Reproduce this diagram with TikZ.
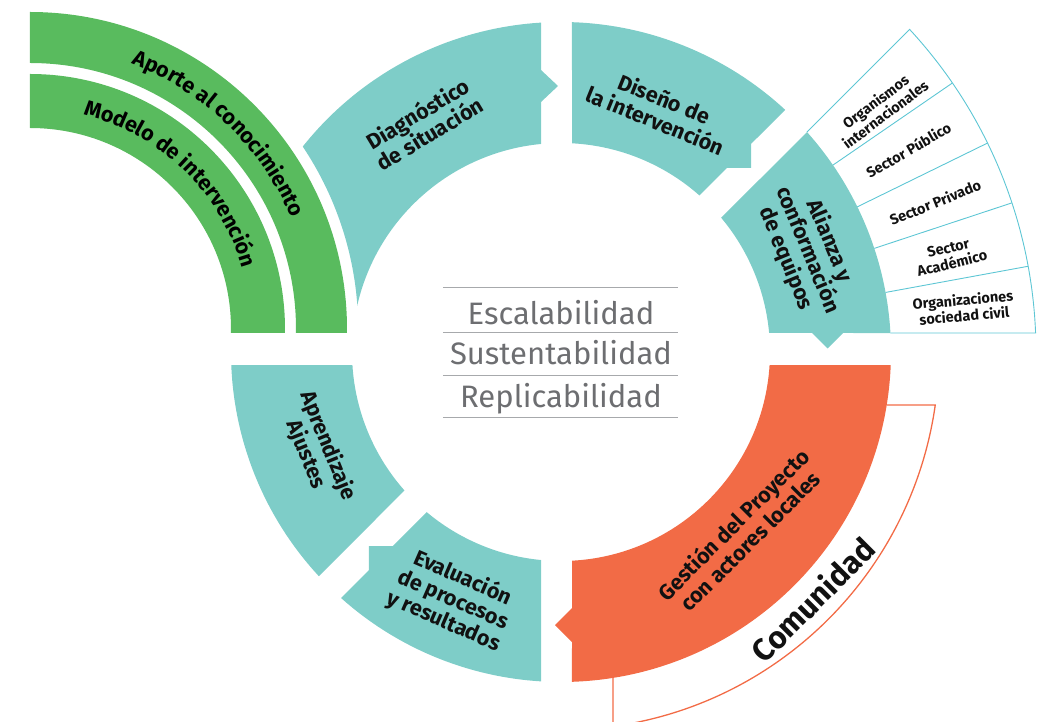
\documentclass[tikz,border=0pt]{standalone}
\usepackage{fontspec}
\setmainfont{Fira Sans}
\usepackage{xcolor}
\definecolor{cyteal}{HTML}{7ECDC8}
\definecolor{cygreen}{HTML}{59BB5E}
\definecolor{cyorange}{HTML}{F26B46}
\definecolor{cyink}{HTML}{111111}
\definecolor{cygray}{HTML}{6D6E71}
\definecolor{cyrule}{HTML}{A7A9AC}
\definecolor{cyline}{HTML}{5DC6D4}
\usetikzlibrary{decorations.text}
\newcommand\cyarcfont{\bfseries\fontsize{21.5}{24}\selectfont}
\tikzset{
  cyseg/.style   ={fill=cyteal, draw=none},
  cyhot/.style   ={fill=cyorange, draw=none},
  cygrn/.style   ={fill=cygreen, draw=none, even odd rule},
  cylbl/.style   ={font=\bfseries\fontsize{21.5}{23.5}\selectfont, text=cyink,
                   align=center, inner sep=0pt},
  cyboxlbl/.style={font=\bfseries\fontsize{14.5}{16}\selectfont, text=cyink,
                   align=center, inner sep=0pt},
  cyword/.style  ={font=\fontsize{31}{36}\selectfont, text=cygray, inner sep=0pt,
                   anchor=base},
  cyrul/.style   ={draw=cyrule, line width=1pt},
  cybox/.style   ={draw=cyline, line width=0.9pt},
  cyedge/.style  ={draw=cyorange, line width=1.3pt},
}

\begin{document}
\begin{tikzpicture}[x=1pt, y=1pt]
  \clip (-561,-370) rectangle (485,352);
  % green bands
  \begin{scope}
    \clip (-531,19) rectangle (0,352);
    \begin{scope}[shift={(-531,23)}]
      \fill[cygrn] (0,0) circle[radius=317] (0,0) circle[radius=266];
      \fill[cygrn] (0,0) circle[radius=255] (0,0) circle[radius=201];
    \end{scope}
  \end{scope}
  \begin{scope}[shift={(-531,23)}]
    \path[decorate, decoration={text along path, text align=center,
          text={|\cyarcfont|Aporte al conocimiento}}]
      (90:284) arc[start angle=90, end angle=2, radius=284];
    \path[decorate, decoration={text along path, text align=center,
          text={|\cyarcfont|Modelo de intervención}}]
      (90:221) arc[start angle=90, end angle=2, radius=221];
  \end{scope}

  % ring
  \fill[cyseg] (93.47:330) arc[start angle=93.47, end angle=141.5, radius=330]
    arc[start angle=33.8, end angle=4.07, radius=328]
    -- (167.2:209) arc[start angle=167.2, end angle=95.49, radius=209]
    -- (-20,250) -- (-3,266) -- (-20,282) -- cycle;
  \fill[cyseg] (88.09:330) arc[start angle=88.09, end angle=47.21, radius=330]
    -- (190,208) -- (190,184) -- (166,184)
    -- (48.5:209) arc[start angle=48.5, end angle=86.98, radius=209] -- cycle;
  \fill[cyseg] (41.8:330) arc[start angle=41.8, end angle=3.30, radius=330]
    -- (282,19) -- (266.5,3.5) -- (251,19)
    -- (5.22:209) arc[start angle=5.22, end angle=39.96, radius=209] -- cycle;
  \fill[cyhot] (-2.26:330) arc[start angle=-2.26, end angle=-88.09, radius=330]
    -- (11,-290) -- (-6,-273) -- (11,-256)
    -- (-86.98:209) arc[start angle=-86.98, end angle=-3.57, radius=209] -- cycle;
  \fill[cyseg] (-93.47:330) arc[start angle=-93.47, end angle=-131.8, radius=330]
    -- (-192,-218) -- (-192,-194) -- (-168,-194)
    -- (-129.96:209) arc[start angle=-129.96, end angle=-95.49, radius=209] -- cycle;
  \fill[cyseg] (182.26:330) arc[start angle=182.26, end angle=222.8, radius=330]
    -- (221.5:209) arc[start angle=221.5, end angle=183.57, radius=209] -- cycle;

  % partner boxes
  \draw[cybox] (41.8:330) -- (42.78:475) arc[start angle=42.78, end angle=2.29, radius=475]
    -- (3.30:330);
  \foreach \a in {34.5,26.1,18.3,10.4}
    \draw[cybox] (\a:330) -- (\a:475);

  % community outline
  \draw[cyedge] (-9.24:330) -- (-8.06:378) arc[start angle=-8.06, end angle=-82.09, radius=378]
    -- (-80.93:330);

  \node[cylbl, rotate=31]    (diag) at (121:267)   {Diagnóstico\\de situación};
  \node[cylbl, rotate=-22]   (dise) at (67.8:262)  {Diseño de\\la intervención};
  \node[cylbl, rotate=-67.5] (alia) at (22.5:267)  {Alianza y\\conformación\\de equipos};
  \node[cylbl, rotate=45]    (gest) at (-45:255)   {Gestión del Proyecto\\con actores locales};
  \node[cylbl, rotate=-23.5] (eval) at (246.5:270) {Evaluación\\de procesos\\y resultados};
  \node[cylbl, rotate=-68]   (apre) at (201.9:263) {Aprendizaje\\Ajustes};
  \node[cylbl, font=\bfseries\fontsize{31}{36}\selectfont, rotate=45]
       (comu) at (-44.5:353) {Comunidad};

  \node[cyboxlbl, rotate=37] (orgint)  at (37.4:402) {Organismos\\internacionales};
  \node[cyboxlbl, rotate=30] (secpub)  at (30.2:402) {Sector Público};
  \node[cyboxlbl, rotate=22] (secpriv) at (21.8:403) {Sector Privado};
  \node[cyboxlbl, rotate=14] (secacad) at (13.9:401) {Sector\\Académico};
  \node[cyboxlbl, rotate=5]  (orgsoc)  at (6.3:405)  {Organizaciones\\sociedad civil};

  % centre
  \foreach \y in {64,19,-24,-66}
    \draw[cyrul] (-118,\y) -- (117,\y);
  \node[cyword] (esc) at (0,27)  {Escalabilidad};
  \node[cyword] (sus) at (0,-13) {Sustentabilidad};
  \node[cyword] (rep) at (0,-56) {Replicabilidad};
\end{tikzpicture}
\end{document}
